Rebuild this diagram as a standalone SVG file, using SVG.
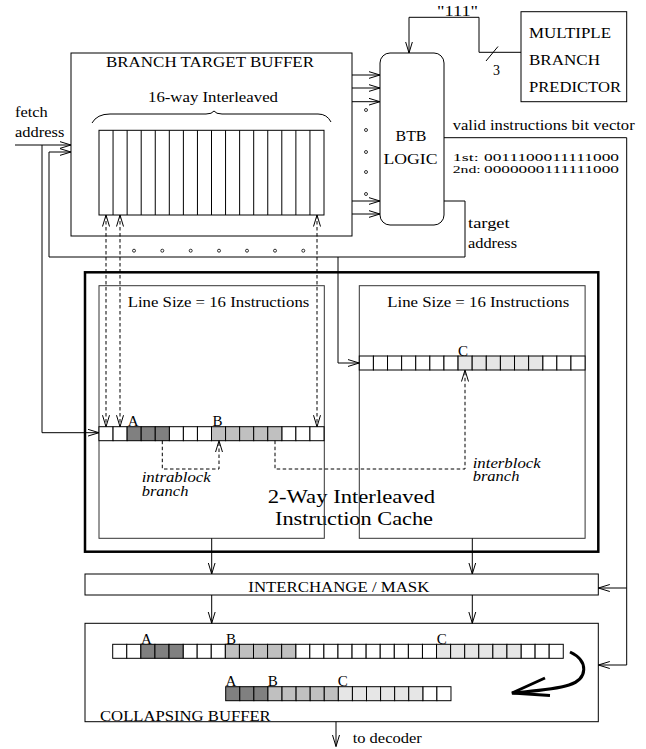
<svg xmlns="http://www.w3.org/2000/svg" width="646" height="749" viewBox="0 0 646 749">
<style>
text{font-family:"Liberation Serif","Times New Roman",serif;font-size:14px;fill:#000}
.it{font-style:italic}
.big{font-size:19px}
.sm{font-size:11px}
.lt{font-size:15px}
.box{fill:none;stroke:#000;stroke-width:1}
.gbox{fill:none;stroke:#333;stroke-width:1}
.ln{fill:none;stroke:#000;stroke-width:1}
.ds{fill:none;stroke:#000;stroke-width:1;stroke-dasharray:3.5,2.5}
.c{fill:#fff;stroke:#000;stroke-width:1}
.d{fill:#808080;stroke:#000;stroke-width:1}
.m{fill:#c0c0c0;stroke:#000;stroke-width:1}
.l{fill:#e6e6e6;stroke:#000;stroke-width:1}
.dot{fill:#fff;stroke:#000;stroke-width:0.8}
</style>
<defs>
<marker id="ah" markerUnits="userSpaceOnUse" markerWidth="13" markerHeight="9" refX="11.5" refY="4.5" orient="auto-start-reverse">
<path d="M0,1 L11.5,4.5 L0,8" fill="none" stroke="#000" stroke-width="1"/>
</marker>
</defs>

<g id="btb">
<rect class="box" x="71" y="53" width="281" height="183"/>
<text x="106" y="67" textLength="208" lengthAdjust="spacingAndGlyphs">BRANCH TARGET BUFFER</text>
<text x="148" y="102" textLength="130" lengthAdjust="spacingAndGlyphs">16-way Interleaved</text>
<path class="ln" d="M92,123 Q97,114 110,114 L206,114 Q212,114 214,111 Q216,114 222,114 L318,114 Q327,114 331,122"/>
</g>

<g id="bank">
<rect class="box" x="99" y="130.3" width="225" height="84.7"/>
<path class="ln" d="M113.06,130.3V215M127.13,130.3V215M141.19,130.3V215M155.25,130.3V215M169.31,130.3V215M183.38,130.3V215M197.44,130.3V215M211.5,130.3V215M225.56,130.3V215M239.63,130.3V215M253.69,130.3V215M267.75,130.3V215M281.81,130.3V215M295.88,130.3V215M309.94,130.3V215"/>
</g>

<g id="btb-logic">
<rect class="box" x="380" y="53" width="64" height="172" rx="10" ry="10"/>
<text x="395.5" y="141" textLength="31" lengthAdjust="spacingAndGlyphs">BTB</text>
<text x="383.5" y="164" textLength="54" lengthAdjust="spacingAndGlyphs">LOGIC</text>
</g>

<g id="predictor">
<rect class="box" x="521" y="11.7" width="105.7" height="90"/>
<text x="529" y="37.7" textLength="82" lengthAdjust="spacingAndGlyphs">MULTIPLE</text>
<text x="529" y="65" textLength="71" lengthAdjust="spacingAndGlyphs">BRANCH</text>
<text x="529" y="92" textLength="92" lengthAdjust="spacingAndGlyphs">PREDICTOR</text>
</g>

<g id="labels">
<text x="15" y="117" textLength="32.7" lengthAdjust="spacingAndGlyphs">fetch</text>
<text x="15" y="137" textLength="49.3" lengthAdjust="spacingAndGlyphs">address</text>
<text x="437" y="16" textLength="41" lengthAdjust="spacingAndGlyphs">"111"</text>
<text x="493" y="75">3</text>
<text x="452.7" y="130" textLength="182" lengthAdjust="spacingAndGlyphs">valid instructions bit vector</text>
<text class="sm" x="452.7" y="161" textLength="26" lengthAdjust="spacingAndGlyphs">1st:</text>
<text class="sm" x="484" y="161" textLength="135" lengthAdjust="spacingAndGlyphs">0011100011111000</text>
<text class="sm" x="452.7" y="173" textLength="28" lengthAdjust="spacingAndGlyphs">2nd:</text>
<text class="sm" x="484" y="173" textLength="135" lengthAdjust="spacingAndGlyphs">0000000111111000</text>
<text x="468" y="228" textLength="41.7" lengthAdjust="spacingAndGlyphs">target</text>
<text x="468" y="247.5" textLength="49" lengthAdjust="spacingAndGlyphs">address</text>
</g>

<g id="cache">
<rect x="85" y="272.3" width="513.3" height="279.4" fill="none" stroke="#000" stroke-width="2.5"/>
<text class="big" x="267.7" y="503" textLength="167.3" lengthAdjust="spacingAndGlyphs">2-Way Interleaved</text>
<text class="big" x="275" y="525" textLength="158" lengthAdjust="spacingAndGlyphs">Instruction Cache</text>
</g>

<g id="cache1">
<rect class="gbox" x="99" y="285.7" width="225.3" height="252.6"/>
<text x="127.7" y="306.7" textLength="181.6" lengthAdjust="spacingAndGlyphs">Line Size = 16 Instructions</text>
<rect class="c" x="99" y="426.7" width="14.06" height="14"/>
<rect class="c" x="113.06" y="426.7" width="14.06" height="14"/>
<rect class="c" x="169.31" y="426.7" width="14.06" height="14"/>
<rect class="c" x="183.38" y="426.7" width="14.06" height="14"/>
<rect class="c" x="197.44" y="426.7" width="14.06" height="14"/>
<rect class="c" x="281.81" y="426.7" width="14.06" height="14"/>
<rect class="c" x="295.88" y="426.7" width="14.06" height="14"/>
<rect class="c" x="309.94" y="426.7" width="14.06" height="14"/>
<rect class="d" x="127.13" y="426.7" width="14.06" height="14"/>
<rect class="d" x="141.19" y="426.7" width="14.06" height="14"/>
<rect class="d" x="155.25" y="426.7" width="14.06" height="14"/>
<rect class="m" x="211.5" y="426.7" width="14.06" height="14"/>
<rect class="m" x="225.56" y="426.7" width="14.06" height="14"/>
<rect class="m" x="239.63" y="426.7" width="14.06" height="14"/>
<rect class="m" x="253.69" y="426.7" width="14.06" height="14"/>
<rect class="m" x="267.75" y="426.7" width="14.06" height="14"/>
<text class="lt" x="127.8" y="426">A</text>
<text class="lt" x="212.5" y="426">B</text>
<text class="it" x="141.7" y="482" textLength="69" lengthAdjust="spacingAndGlyphs">intrablock</text>
<text class="it" x="141.7" y="495.7" textLength="46.7" lengthAdjust="spacingAndGlyphs">branch</text>
</g>

<g id="cache2">
<rect class="gbox" x="359.3" y="285.7" width="225.8" height="252.6"/>
<text x="387.3" y="306.7" textLength="182" lengthAdjust="spacingAndGlyphs">Line Size = 16 Instructions</text>
<rect class="c" x="359.3" y="356" width="14.11" height="14"/>
<rect class="c" x="373.41" y="356" width="14.11" height="14"/>
<rect class="c" x="387.52" y="356" width="14.11" height="14"/>
<rect class="c" x="401.63" y="356" width="14.11" height="14"/>
<rect class="c" x="415.74" y="356" width="14.11" height="14"/>
<rect class="c" x="429.85" y="356" width="14.11" height="14"/>
<rect class="c" x="443.96" y="356" width="14.11" height="14"/>
<rect class="c" x="542.73" y="356" width="14.11" height="14"/>
<rect class="c" x="556.84" y="356" width="14.11" height="14"/>
<rect class="c" x="570.95" y="356" width="14.11" height="14"/>
<rect class="l" x="458.07" y="356" width="14.11" height="14"/>
<rect class="l" x="472.18" y="356" width="14.11" height="14"/>
<rect class="l" x="486.29" y="356" width="14.11" height="14"/>
<rect class="l" x="500.4" y="356" width="14.11" height="14"/>
<rect class="l" x="514.51" y="356" width="14.11" height="14"/>
<rect class="l" x="528.62" y="356" width="14.11" height="14"/>
<text class="lt" x="458" y="355.5">C</text>
<text class="it" x="472.7" y="467.7" textLength="68" lengthAdjust="spacingAndGlyphs">interblock</text>
<text class="it" x="472.7" y="481.3" textLength="46.7" lengthAdjust="spacingAndGlyphs">branch</text>
</g>

<g id="interchange">
<rect class="box" x="85" y="574" width="513.3" height="21"/>
<text x="248.3" y="591.7" textLength="181" lengthAdjust="spacingAndGlyphs">INTERCHANGE / MASK</text>
</g>

<g id="collapsing">
<rect class="box" x="85" y="623.3" width="513.3" height="98.4"/>
<text x="100" y="720.7" textLength="170.7" lengthAdjust="spacingAndGlyphs">COLLAPSING BUFFER</text>
<rect class="c" x="112.7" y="644.3" width="14.08" height="14"/>
<rect class="c" x="126.78" y="644.3" width="14.08" height="14"/>
<rect class="c" x="183.1" y="644.3" width="14.08" height="14"/>
<rect class="c" x="197.18" y="644.3" width="14.08" height="14"/>
<rect class="c" x="211.26" y="644.3" width="14.08" height="14"/>
<rect class="c" x="295.74" y="644.3" width="14.08" height="14"/>
<rect class="c" x="309.82" y="644.3" width="14.08" height="14"/>
<rect class="c" x="323.9" y="644.3" width="14.08" height="14"/>
<rect class="c" x="337.98" y="644.3" width="14.08" height="14"/>
<rect class="c" x="352.06" y="644.3" width="14.08" height="14"/>
<rect class="c" x="366.14" y="644.3" width="14.08" height="14"/>
<rect class="c" x="380.22" y="644.3" width="14.08" height="14"/>
<rect class="c" x="394.3" y="644.3" width="14.08" height="14"/>
<rect class="c" x="408.38" y="644.3" width="14.08" height="14"/>
<rect class="c" x="422.46" y="644.3" width="14.08" height="14"/>
<rect class="c" x="521.02" y="644.3" width="14.08" height="14"/>
<rect class="c" x="535.1" y="644.3" width="14.08" height="14"/>
<rect class="c" x="549.18" y="644.3" width="14.08" height="14"/>
<rect class="d" x="140.86" y="644.3" width="14.08" height="14"/>
<rect class="d" x="154.94" y="644.3" width="14.08" height="14"/>
<rect class="d" x="169.02" y="644.3" width="14.08" height="14"/>
<rect class="m" x="225.34" y="644.3" width="14.08" height="14"/>
<rect class="m" x="239.42" y="644.3" width="14.08" height="14"/>
<rect class="m" x="253.5" y="644.3" width="14.08" height="14"/>
<rect class="m" x="267.58" y="644.3" width="14.08" height="14"/>
<rect class="m" x="281.66" y="644.3" width="14.08" height="14"/>
<rect class="l" x="436.54" y="644.3" width="14.08" height="14"/>
<rect class="l" x="450.62" y="644.3" width="14.08" height="14"/>
<rect class="l" x="464.7" y="644.3" width="14.08" height="14"/>
<rect class="l" x="478.78" y="644.3" width="14.08" height="14"/>
<rect class="l" x="492.86" y="644.3" width="14.08" height="14"/>
<rect class="l" x="506.94" y="644.3" width="14.08" height="14"/>
<text class="lt" x="141" y="643.8">A</text>
<text class="lt" x="226" y="643.8">B</text>
<text class="lt" x="436.8" y="643.8">C</text>
<rect class="c" x="422.82" y="686.7" width="14.08" height="14"/>
<rect class="c" x="436.9" y="686.7" width="14.08" height="14"/>
<rect class="d" x="225.7" y="686.7" width="14.08" height="14"/>
<rect class="d" x="239.78" y="686.7" width="14.08" height="14"/>
<rect class="d" x="253.86" y="686.7" width="14.08" height="14"/>
<rect class="m" x="267.94" y="686.7" width="14.08" height="14"/>
<rect class="m" x="282.02" y="686.7" width="14.08" height="14"/>
<rect class="m" x="296.1" y="686.7" width="14.08" height="14"/>
<rect class="m" x="310.18" y="686.7" width="14.08" height="14"/>
<rect class="m" x="324.26" y="686.7" width="14.08" height="14"/>
<rect class="l" x="338.34" y="686.7" width="14.08" height="14"/>
<rect class="l" x="352.42" y="686.7" width="14.08" height="14"/>
<rect class="l" x="366.5" y="686.7" width="14.08" height="14"/>
<rect class="l" x="380.58" y="686.7" width="14.08" height="14"/>
<rect class="l" x="394.66" y="686.7" width="14.08" height="14"/>
<rect class="l" x="408.74" y="686.7" width="14.08" height="14"/>
<text class="lt" x="225.5" y="686.2">A</text>
<text class="lt" x="267.8" y="686.2">B</text>
<text class="lt" x="337.8" y="686.2">C</text>
<path d="M570,652 C589,661 588,679 569,685 C553,690 532,691 512,693" fill="none" stroke="#000" stroke-width="3"/>
<path d="M545,678 L512,693 L550,695.5" fill="none" stroke="#000" stroke-width="3"/>
<text x="352.7" y="742.7" textLength="69" lengthAdjust="spacingAndGlyphs">to decoder</text>
</g>

<g id="connectors">
<path class="ln" d="M15,145 H71" marker-end="url(#ah)"/>
<path class="ln" d="M42,145 V432.7 H99" marker-end="url(#ah)"/>
<path class="ln" d="M444,201 H465 V257 H49 V152 H71" marker-end="url(#ah)"/>
<path class="ln" d="M338,257 V363 H359.3" marker-end="url(#ah)"/>
<path class="ln" d="M444,137.7 H626.7 V665 H598.3" marker-end="url(#ah)"/>
<path class="ln" d="M626.7,588 H598.3" marker-end="url(#ah)"/>
<path class="ln" d="M521,52.3 H479 V17.3 H409 V53" marker-end="url(#ah)"/>
<path class="ln" d="M486,61 L498,46.5"/>
<path class="ln" d="M352,75 H380" marker-end="url(#ah)"/>
<path class="ln" d="M352,88 H380" marker-end="url(#ah)"/>
<path class="ln" d="M352,101.7 H380" marker-end="url(#ah)"/>
<path class="ln" d="M352,201 H380" marker-end="url(#ah)"/>
<path class="ln" d="M352,214 H380" marker-end="url(#ah)"/>
<circle class="dot" cx="366" cy="110" r="1.5"/>
<circle class="dot" cx="366" cy="130" r="1.5"/>
<circle class="dot" cx="366" cy="152" r="1.5"/>
<circle class="dot" cx="366" cy="172" r="1.5"/>
<circle class="dot" cx="366" cy="194" r="1.5"/>
<circle class="dot" cx="134" cy="250.7" r="1.5"/>
<circle class="dot" cx="162.3" cy="250.7" r="1.5"/>
<circle class="dot" cx="190.7" cy="250.7" r="1.5"/>
<circle class="dot" cx="219" cy="250.7" r="1.5"/>
<circle class="dot" cx="247" cy="250.7" r="1.5"/>
<circle class="dot" cx="275" cy="250.7" r="1.5"/>
<circle class="dot" cx="303.3" cy="250.7" r="1.5"/>
<path class="ds" d="M106,215 V426.7" marker-start="url(#ah)" marker-end="url(#ah)"/>
<path class="ds" d="M120,215 V426.7" marker-start="url(#ah)" marker-end="url(#ah)"/>
<path class="ds" d="M317,215 V426.7" marker-start="url(#ah)" marker-end="url(#ah)"/>
<path class="ds" d="M162.3,440.7 V469 H219 V440.7" marker-end="url(#ah)"/>
<path class="ds" d="M275,440.7 V469 H465 V370" marker-end="url(#ah)"/>
<path class="ln" d="M211.7,538.3 V574" marker-end="url(#ah)"/>
<path class="ln" d="M472.3,538.3 V574" marker-end="url(#ah)"/>
<path class="ln" d="M211.7,595 V623.3" marker-end="url(#ah)"/>
<path class="ln" d="M472.3,595 V623.3" marker-end="url(#ah)"/>
<path class="ln" d="M336,721.7 V746.5" marker-end="url(#ah)"/>
</g>
</svg>
